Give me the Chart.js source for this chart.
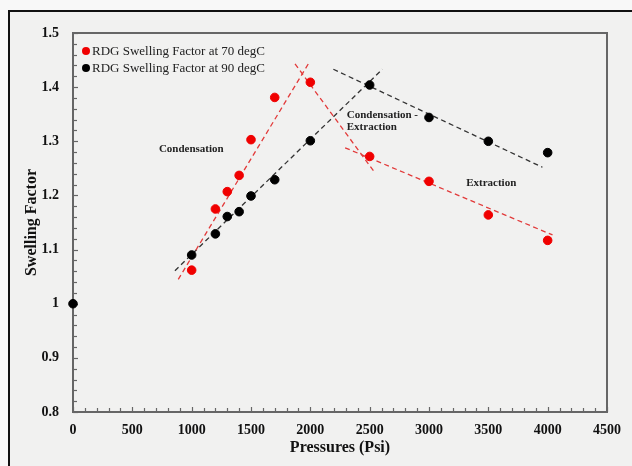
<!DOCTYPE html>
<html>
<head>
<meta charset="utf-8">
<script src="https://cdn.jsdelivr.net/npm/chart.js@4.4.1/dist/chart.umd.min.js"></script>
<style>
  html, body { margin: 0; padding: 0; background: #f8f8f8; }
  #frame {
    position: absolute; left: 8px; top: 10px; width: 640px; height: 470px;
    border-left: 2px solid #111; border-top: 2px solid #111; background: #f1f1f0;
  }
  #wrap { position: absolute; left: 0; top: 0; width: 632px; height: 466px; }
</style>
</head>
<body>
<div id="frame"></div>
<div id="wrap"><canvas id="c" width="632" height="466"></canvas></div>
<script>
// Pressures (psi) at which swelling factor was measured
const pressures70 = [1000, 1200, 1300, 1400, 1500, 1700, 2000, 2500, 3000, 3500, 4000];
const swelling70  = [1.062, 1.175, 1.207, 1.237, 1.303, 1.381, 1.409, 1.272, 1.226, 1.164, 1.117];

const pressures90 = [0, 1000, 1200, 1300, 1400, 1500, 1700, 2000, 2500, 3000, 3500, 4000];
const swelling90  = [1.000, 1.090, 1.129, 1.161, 1.170, 1.199, 1.229, 1.301, 1.404, 1.344, 1.300, 1.279];

// Hand-fitted trend segments: [x0, y0, x1, y1]
const trend70Condensation = [887, 1.045, 1983, 1.443];
const trend70Transition   = [1871, 1.443, 2537, 1.244];
const trend70Extraction   = [2293, 1.288, 4041, 1.127];
const trend90Condensation = [859, 1.061, 2607, 1.433];
const trend90Extraction   = [2194, 1.433, 3956, 1.252];

// Axis ticks
const xTickValues = [0, 500, 1000, 1500, 2000, 2500, 3000, 3500, 4000, 4500];
const yTickValues = [0.8, 0.9, 1.0, 1.1, 1.2, 1.3, 1.4, 1.5];

// Region labels: [text lines, x, y]
const regionLabels = [
  [["Condensation"], 724, 1.286],
  [["Condensation -", "Extraction"], 2307, 1.349],
  [["Extraction"], 3313, 1.222]
];

const legendItems = [
  ["RDG Swelling Factor at 70 degC", "#f00000"],
  ["RDG Swelling Factor at 90 degC", "#000000"]
];

const serif = "'Liberation Serif', 'Times New Roman', serif";

function toPoints(xs, ys) { return xs.map((x, i) => ({ x: x, y: ys[i] })); }
function seg(s) { return [{ x: s[0], y: s[1] }, { x: s[2], y: s[3] }]; }
function trend(s, color) {
  return {
    type: 'line', data: seg(s), borderColor: color, borderWidth: 1.3,
    borderDash: [5, 3.5], pointRadius: 0, fill: false, clip: false, order: 2
  };
}

const axisColor = '#666666';

// Frame, inward minor ticks, legend and region labels
const decorations = {
  id: 'decorations',
  beforeDatasetsDraw(chart) {
    const { ctx, chartArea: a, scales: { x, y } } = chart;
    ctx.save();
    ctx.strokeStyle = axisColor;
    ctx.lineWidth = 1.2;
    for (let v = 0; v <= 4500; v += 100) {
      const px = Math.round(x.getPixelForValue(v)) + 0.5;
      const len = (v % 500 === 0) ? 5 : 4;
      ctx.beginPath(); ctx.moveTo(px, a.bottom); ctx.lineTo(px, a.bottom - len); ctx.stroke();
    }
    for (let k = 0; k <= 35; k++) {
      const v = 0.8 + k * 0.02;
      const py = Math.round(y.getPixelForValue(v)) + 0.5;
      const len = (k % 5 === 0) ? 5 : 4;
      ctx.beginPath(); ctx.moveTo(a.left, py); ctx.lineTo(a.left + len, py); ctx.stroke();
    }
    ctx.lineWidth = 2;
    ctx.strokeRect(a.left, a.top, a.right - a.left, a.bottom - a.top);
    ctx.restore();
  },
  afterDatasetsDraw(chart) {
    const { ctx, chartArea: a, scales: { x, y } } = chart;
    ctx.save();
    // legend
    ctx.font = "13px " + serif;
    ctx.textBaseline = 'middle';
    legendItems.forEach((it, i) => {
      const cy = a.top + 18 + i * 17;
      ctx.fillStyle = it[1];
      ctx.beginPath(); ctx.arc(a.left + 13, cy, 4, 0, Math.PI * 2); ctx.fill();
      ctx.fillStyle = '#222';
      ctx.fillText(it[0], a.left + 19, cy + 0.5);
    });
    // region labels
    ctx.font = "bold 11px " + serif;
    ctx.fillStyle = '#222';
    regionLabels.forEach(r => {
      const px = x.getPixelForValue(r[1]);
      const py = y.getPixelForValue(r[2]);
      r[0].forEach((line, j) => ctx.fillText(line, px, py + j * 12.5));
    });
    ctx.restore();
  }
};

new Chart(document.getElementById('c'), {
  type: 'scatter',
  data: {
    datasets: [
      { label: legendItems[0][0], data: toPoints(pressures70, swelling70),
        backgroundColor: '#f00000', borderColor: '#f00000', pointRadius: 4.3, pointHoverRadius: 4.3, clip: false, order: 1 },
      { label: legendItems[1][0], data: toPoints(pressures90, swelling90),
        backgroundColor: '#000000', borderColor: '#000000', pointRadius: 4.3, pointHoverRadius: 4.3, clip: false, order: 1 },
      trend(trend70Condensation, '#e23a3a'),
      trend(trend70Transition, '#e23a3a'),
      trend(trend70Extraction, '#e23a3a'),
      trend(trend90Condensation, '#333333'),
      trend(trend90Extraction, '#333333')
    ]
  },
  options: {
    responsive: false,
    animation: false,
    events: [],
    layout: { padding: { left: 0, top: 33, right: 25, bottom: 0 } },
    plugins: { legend: { display: false }, tooltip: { enabled: false } },
    scales: {
      x: {
        type: 'linear', min: 0, max: 4500,
        afterBuildTicks: s => { s.ticks = xTickValues.map(v => ({ value: v })); },
        afterFit: s => { s.height = 54; },
        grid: { display: false, drawTicks: false },
        border: { display: false },
        ticks: { color: '#111', padding: 10, maxRotation: 0, autoSkip: false,
          font: { family: serif, size: 14, weight: 'bold' },
          callback: v => String(v) },
        title: { display: true, text: 'Pressures (Psi)', color: '#111', padding: { top: 0, bottom: 9 },
          font: { family: serif, size: 16, weight: 'bold' } }
      },
      y: {
        type: 'linear', min: 0.8, max: 1.5,
        afterBuildTicks: s => { s.ticks = yTickValues.map(v => ({ value: v })); },
        afterFit: s => { s.width = 73; },
        grid: { display: false, drawTicks: false },
        border: { display: false },
        ticks: { color: '#111', padding: 14, autoSkip: false,
          font: { family: serif, size: 14, weight: 'bold' },
          callback: v => String(Number(v.toFixed(1))) },
        title: { display: true, text: 'Swelling Factor', color: '#111', padding: { top: 22, bottom: 0 },
          font: { family: serif, size: 16, weight: 'bold' } }
      }
    }
  },
  plugins: [decorations]
});
</script>
</body>
</html>
